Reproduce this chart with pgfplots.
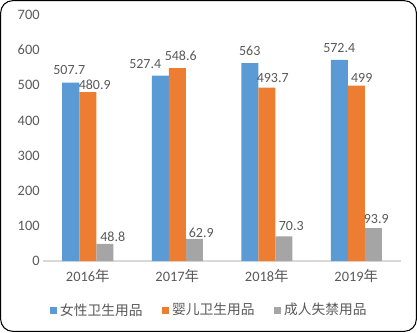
\documentclass[border=0pt]{standalone}
\usepackage{pgfplots}
\usepackage{pgfplotstable}
\pgfplotsset{compat=1.18}
\usepackage{fontspec}
\setmainfont{Carlito}
\newfontfamily\cjk{Noto Sans CJK SC}
\definecolor{cblue}{HTML}{5B9BD5}
\definecolor{corange}{HTML}{ED7D31}
\definecolor{cgray}{HTML}{A5A5A5}
\definecolor{ctext}{HTML}{595959}
\definecolor{caxis}{HTML}{D9D9D9}
% x  value  label  dx(pt) gap(pt)
\pgfplotstableread{
x y lab dx dy
0 507.7 507.7 -1.1 6
1 527.4 527.4 -11.25 5.25
2 563 563 0 5.25
3 572.4 572.4 0 5.25
}\femtab
\pgfplotstableread{
x y lab dx dy
0 480.9 480.9 5.25 1.5
1 548.6 548.6 2.6 5.25
2 493.7 493.7 4.5 3.75
3 499 499 4.1 2.25
}\babytab
\pgfplotstableread{
x y lab dx dy
0 48.8 48.8 6 1.5
1 62.9 62.9 5.25 1.1
2 70.3 70.3 5.6 3.75
3 93.9 93.9 2.25 3
}\adulttab
\begin{document}
\begin{tikzpicture}
\draw[use as bounding box, draw=none] (0,0) rectangle (312.75pt,249pt);
\draw[rounded corners=9pt, line width=0.8pt] (0.5pt,0.5pt) rectangle (312.25pt,248.5pt);
\begin{axis}[
  at={(32.25pt,53.25pt)}, anchor=south west,
  scale only axis, width=268.5pt, height=184.5pt,
  xmin=-0.5, xmax=3.5, ymin=0, ymax=700,
  ytick={0,100,...,700},
  xtick={0,1,2,3},
  xticklabels={{2016\cjk 年},{2017\cjk 年},{2018\cjk 年},{2019\cjk 年}},
  axis line style={draw=none},
  tick style={draw=none},
  ticklabel style={font=\fontsize{10.8}{13}\selectfont, text=ctext},
  /pgf/number format/assume math mode=true,
  yticklabel style={xshift=1pt},
  xticklabel style={yshift=1.5pt},
  bar width=12.75pt,
  ybar=0pt,
  legend style={draw=none, at={(0.466,-0.2)}, anchor=center, legend columns=3,
    font=\cjk\fontsize{10.3}{12}\selectfont, text=ctext,
    /tikz/every even column/.append style={column sep=13pt}},
  legend image code/.code={\fill[#1] (-0.5pt,-2.6pt) rectangle (4.7pt,2.6pt);},
  clip=false,
]
\pgfplotsset{lbls/.style={
  nodes near coords,
  point meta=explicit symbolic,
  visualization depends on={\thisrow{dx} \as \dxv},
  visualization depends on={\thisrow{dy} \as \dyv},
  every node near coord/.append style={font=\fontsize{10.5}{13}\selectfont, text=ctext, inner sep=0pt, xshift=\dxv pt, yshift=\dyv pt}}}
\draw[caxis, line width=0.8pt] (axis cs:-0.5,0) -- (axis cs:3.5,0);
\addplot[fill=cblue, draw=none, bar shift=-12.75pt, lbls] table[x=x, y=y, meta=lab] {\femtab};
\addplot[fill=corange, draw=none, bar shift=0pt, lbls] table[x=x, y=y, meta=lab] {\babytab};
\addplot[fill=cgray, draw=none, bar shift=12.75pt, lbls] table[x=x, y=y, meta=lab] {\adulttab};
\legend{女性卫生用品,婴儿卫生用品,成人失禁用品}
\end{axis}
\end{tikzpicture}
\end{document}
